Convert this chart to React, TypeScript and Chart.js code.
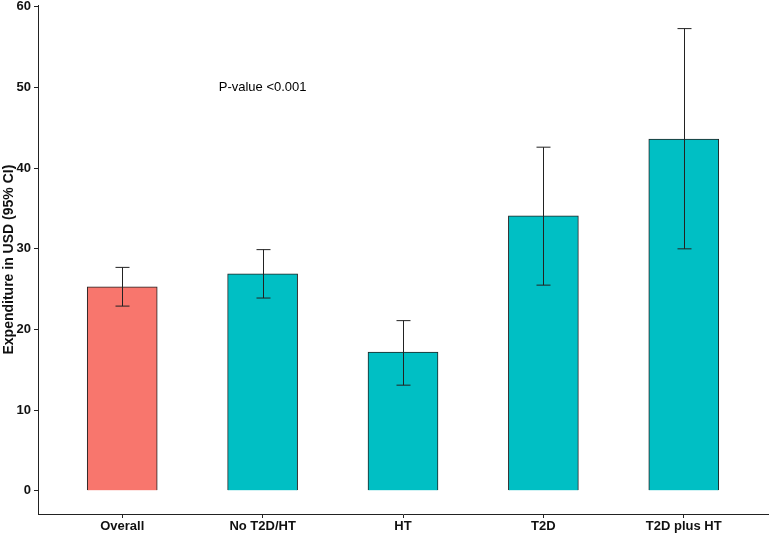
import { useEffect, useRef } from "react"
import { Chart, registerables } from "chart.js"

Chart.register(...registerables)

const groups = ["Overall", "No T2D/HT", "HT", "T2D", "T2D plus HT"]
const means = [25.3, 26.9, 17.2, 34.1, 43.6]
const lower = [22.9, 23.9, 13.1, 25.5, 30.0]
const upper = [27.7, 29.9, 21.1, 42.6, 57.3]
const barColors = ["#F8766D", "#00BFC4", "#00BFC4", "#00BFC4", "#00BFC4"]
const yTicks = [0, 10, 20, 30, 40, 50, 60]
const pLabel = "P-value <0.001"
const pLabelAt = { x: 2, y: 50 }

const FONT = "'Liberation Sans', Arial, sans-serif"

// draws the 95% CI whiskers and the p-value note
const extrasPlugin = {
  id: "extras",
  afterDatasetsDraw(chart: any) {
    const { ctx, scales } = chart
    const xs = scales.x
    const ys = scales.y
    ctx.save()
    ctx.strokeStyle = "#222"
    ctx.lineWidth = 1
    const cap = 7
    means.forEach((_, i) => {
      const px = Math.round(xs.getPixelForValue(i + 1)) + 0.5
      const top = ys.getPixelForValue(upper[i])
      const bot = ys.getPixelForValue(lower[i])
      ctx.beginPath()
      ctx.moveTo(px, top)
      ctx.lineTo(px, bot)
      ctx.moveTo(px - cap, top)
      ctx.lineTo(px + cap, top)
      ctx.moveTo(px - cap, bot)
      ctx.lineTo(px + cap, bot)
      ctx.stroke()
    })
    ctx.fillStyle = "#000"
    ctx.font = `13px ${FONT}`
    ctx.textAlign = "center"
    ctx.textBaseline = "middle"
    ctx.fillText(pLabel, xs.getPixelForValue(pLabelAt.x), ys.getPixelForValue(pLabelAt.y))
    ctx.restore()
  },
}

export default function App() {
  const chartRef = useRef<HTMLCanvasElement>(null)
  const chartInstance = useRef<Chart | null>(null)

  useEffect(() => {
    if (!chartRef.current) return
    if (chartInstance.current) chartInstance.current.destroy()
    const ctx = chartRef.current.getContext("2d")
    if (!ctx) return

    chartInstance.current = new Chart(ctx, {
      type: "bar",
      data: {
        datasets: [
          {
            data: means.map((v, i) => ({ x: i + 1, y: v })),
            backgroundColor: barColors,
            borderColor: "#222",
            borderWidth: 1,
            barThickness: 70,
          },
        ],
      },
      options: {
        animation: false,
        responsive: true,
        maintainAspectRatio: false,
        layout: { padding: { top: 0, right: 1, left: 0, bottom: 0 } },
        plugins: {
          legend: { display: false },
          tooltip: { enabled: false },
        },
        scales: {
          x: {
            type: "linear",
            offset: false,
            min: 0.4,
            max: 5.6,
            afterBuildTicks: (scale: any) => {
              scale.ticks = groups.map((_, i) => ({ value: i + 1 }))
            },
            afterFit: (scale: any) => {
              scale.height = 19
            },
            grid: { display: true, offset: false, drawOnChartArea: false, tickLength: 4, color: "#222" },
            border: { display: true, color: "#222", width: 1 },
            ticks: {
              autoSkip: false,
              maxRotation: 0,
              padding: 2,
              color: "#111",
              font: { family: FONT, size: 13, weight: "bold", lineHeight: 1 },
              callback: (v: any) => groups[Number(v) - 1] ?? "",
            },
          },
          y: {
            min: -2.87,
            max: 60.2,
            afterBuildTicks: (scale: any) => {
              scale.ticks = yTicks.map((v) => ({ value: v }))
            },
            afterFit: (scale: any) => {
              scale.width = 38
            },
            grid: { display: true, drawOnChartArea: false, tickLength: 4, color: "#222" },
            border: { display: true, color: "#222", width: 1 },
            title: {
              display: true,
              text: "Expenditure in USD (95% CI)",
              color: "#111",
              padding: { top: 1, bottom: 0 },
              font: { family: FONT, size: 14, weight: "bold" },
            },
            ticks: {
              padding: 3,
              color: "#111",
              font: { family: FONT, size: 13, weight: "bold", lineHeight: 0.8 },
            },
          },
        },
      },
      plugins: [extrasPlugin],
    })

    return () => {
      if (chartInstance.current) {
        chartInstance.current.destroy()
        chartInstance.current = null
      }
    }
  }, [])

  return (
    <div style={{ position: "fixed", left: 0, top: -3, width: 769, height: 536, background: "#fff" }}>
      <canvas ref={chartRef} />
    </div>
  )
}
